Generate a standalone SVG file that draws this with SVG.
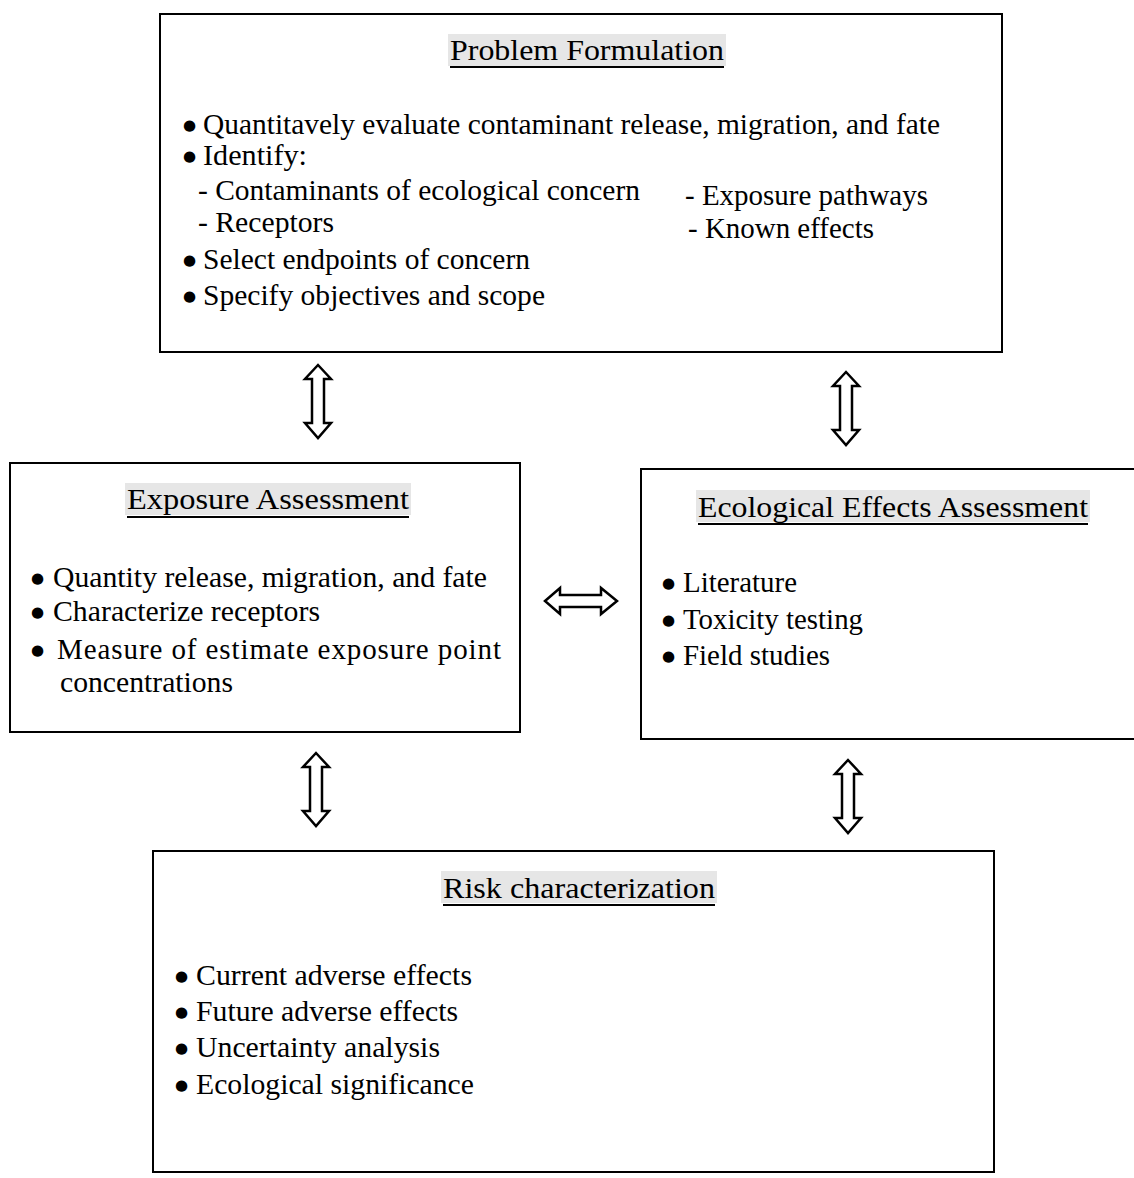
<svg xmlns="http://www.w3.org/2000/svg" width="1134" height="1178" viewBox="0 0 1134 1178">
<style>
  .box { fill: #fff; stroke: #000; stroke-width: 2; }
  .t { font-family: 'Liberation Serif', 'Times New Roman', Tinos, serif; font-size: 29px; fill: #000; }
  .b { font-family: 'DejaVu Sans', 'Liberation Sans', sans-serif; font-size: 15px; fill: #000; }
  .title { font-family: 'Liberation Serif', 'Times New Roman', Tinos, serif; font-size: 30px; fill: #000; }
  .hl { fill: #e6e6e6; }
  .ul { stroke: #000; stroke-width: 2; }
  .arrow { fill: #fff; stroke: #000; stroke-width: 2.5; stroke-linejoin: miter; }
</style>
<rect width="1134" height="1178" fill="#fff"/>

<g id="problem-formulation">
  <rect class="box" x="160" y="14" width="842" height="338"/>
  <rect class="hl" x="448" y="34" width="278" height="32"/>
  <text class="title" x="450" y="60" textLength="274" lengthAdjust="spacingAndGlyphs">Problem Formulation</text>
  <line class="ul" x1="450" y1="67" x2="724" y2="67"/>
  <text class="b" x="183" y="130">●</text>
  <text class="t" x="203" y="134" textLength="737" lengthAdjust="spacingAndGlyphs">Quantitavely evaluate contaminant release, migration, and fate</text>
  <text class="b" x="183" y="161">●</text>
  <text class="t" x="203" y="165" textLength="104" lengthAdjust="spacingAndGlyphs">Identify:</text>
  <text class="t" x="198" y="200" textLength="442" lengthAdjust="spacingAndGlyphs">- Contaminants of ecological concern</text>
  <text class="t" x="198" y="232" textLength="136" lengthAdjust="spacingAndGlyphs">- Receptors</text>
  <text class="t" x="685" y="205" textLength="243" lengthAdjust="spacingAndGlyphs">- Exposure pathways</text>
  <text class="t" x="688" y="238" textLength="186" lengthAdjust="spacingAndGlyphs">- Known effects</text>
  <text class="b" x="183" y="265">●</text>
  <text class="t" x="203" y="269" textLength="327" lengthAdjust="spacingAndGlyphs">Select endpoints of concern</text>
  <text class="b" x="183" y="301">●</text>
  <text class="t" x="203" y="305" textLength="342" lengthAdjust="spacingAndGlyphs">Specify objectives and scope</text>
</g>

<g id="exposure-assessment">
  <rect class="box" x="10" y="463" width="510" height="269"/>
  <rect class="hl" x="125" y="483" width="286" height="32"/>
  <text class="title" x="127" y="509" textLength="282" lengthAdjust="spacingAndGlyphs">Exposure Assessment</text>
  <line class="ul" x1="127" y1="517" x2="409" y2="517"/>
  <text class="b" x="31" y="583">●</text>
  <text class="t" x="53" y="587" textLength="434" lengthAdjust="spacingAndGlyphs">Quantity release, migration, and fate</text>
  <text class="b" x="31" y="617">●</text>
  <text class="t" x="53" y="621" textLength="267" lengthAdjust="spacingAndGlyphs">Characterize receptors</text>
  <text class="b" x="31" y="655">●</text>
  <text class="t" x="57" y="659" textLength="444" lengthAdjust="spacing">Measure of estimate exposure point</text>
  <text class="t" x="60" y="692" textLength="173" lengthAdjust="spacingAndGlyphs">concentrations</text>
</g>

<g id="ecological-effects-assessment">
  <rect class="box" x="641" y="469" width="500" height="270"/>
  <rect class="hl" x="696" y="490" width="394" height="32"/>
  <text class="title" x="698" y="517" textLength="390" lengthAdjust="spacingAndGlyphs">Ecological Effects Assessment</text>
  <line class="ul" x1="698" y1="524" x2="1088" y2="524"/>
  <text class="b" x="662" y="588">●</text>
  <text class="t" x="683" y="592" textLength="114" lengthAdjust="spacingAndGlyphs">Literature</text>
  <text class="b" x="662" y="625">●</text>
  <text class="t" x="683" y="629" textLength="180" lengthAdjust="spacingAndGlyphs">Toxicity testing</text>
  <text class="b" x="662" y="661">●</text>
  <text class="t" x="683" y="665" textLength="147" lengthAdjust="spacingAndGlyphs">Field studies</text>
</g>

<g id="risk-characterization">
  <rect class="box" x="153" y="851" width="841" height="321"/>
  <rect class="hl" x="441" y="871" width="276" height="32"/>
  <text class="title" x="443" y="898" textLength="272" lengthAdjust="spacingAndGlyphs">Risk characterization</text>
  <line class="ul" x1="443" y1="905" x2="715" y2="905"/>
  <text class="b" x="175" y="981">●</text>
  <text class="t" x="196" y="985" textLength="276" lengthAdjust="spacingAndGlyphs">Current adverse effects</text>
  <text class="b" x="175" y="1017">●</text>
  <text class="t" x="196" y="1021" textLength="262" lengthAdjust="spacingAndGlyphs">Future adverse effects</text>
  <text class="b" x="175" y="1053">●</text>
  <text class="t" x="196" y="1057" textLength="244" lengthAdjust="spacingAndGlyphs">Uncertainty analysis</text>
  <text class="b" x="175" y="1090">●</text>
  <text class="t" x="196" y="1094" textLength="278" lengthAdjust="spacingAndGlyphs">Ecological significance</text>
</g>

<g id="connectors">
  <defs>
    <path id="varrow" d="M0,0 L13,14 L6,14 L6,58 L13,58 L0,73 L-13,58 L-6,58 L-6,14 L-13,14 Z"/>
  </defs>
  <use href="#varrow" class="arrow" x="318" y="365"/>
  <use href="#varrow" class="arrow" x="846" y="372"/>
  <use href="#varrow" class="arrow" x="316" y="753"/>
  <use href="#varrow" class="arrow" x="848" y="760"/>
  <path class="arrow" d="M545,601 L560,588 L560,595 L601,595 L601,588 L617,601 L601,614 L601,607 L560,607 L560,614 Z"/>
</g>
</svg>
